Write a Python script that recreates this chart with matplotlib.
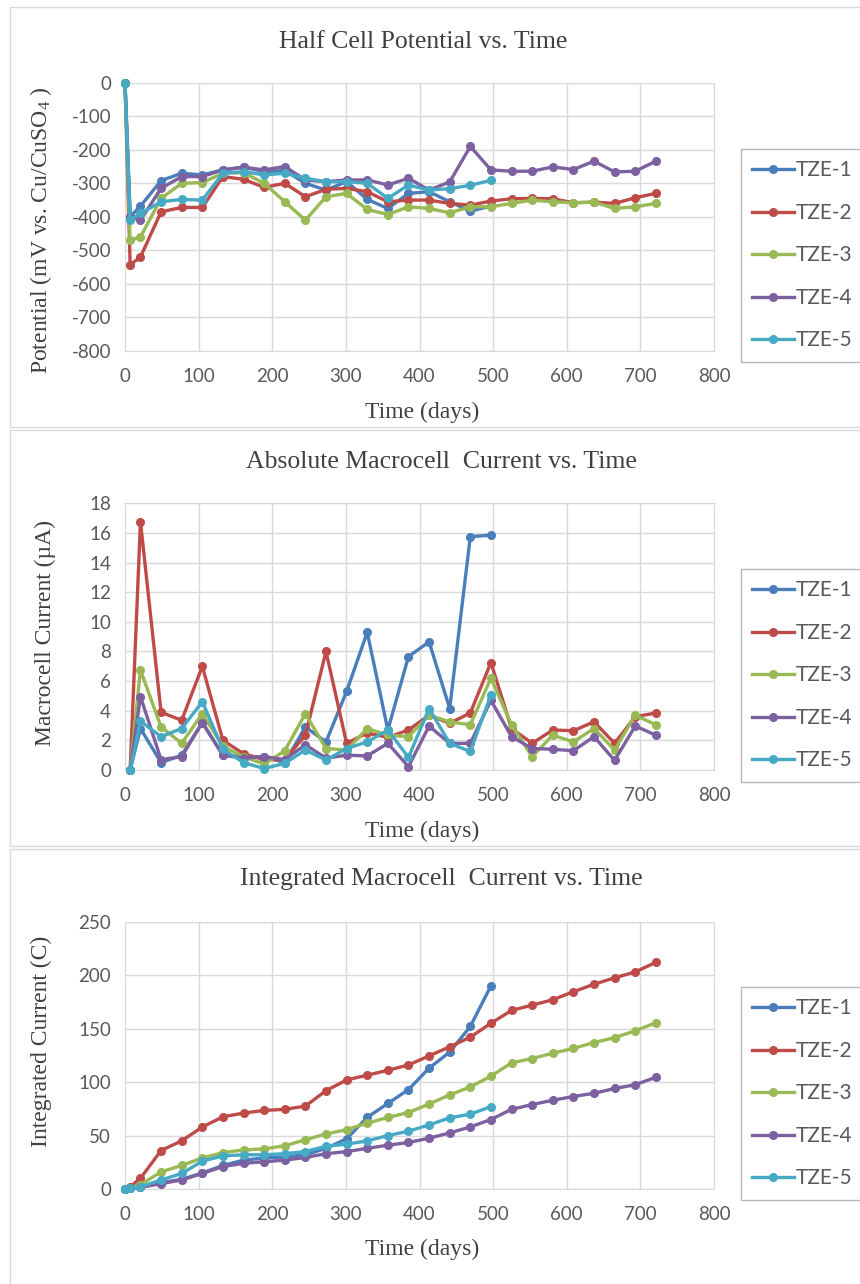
import matplotlib
matplotlib.use("Agg")
import matplotlib.pyplot as plt
from matplotlib.patches import Rectangle

# Time axis (days); TZE-1 and TZE-5 stop at day 497
days = [0, 7, 21, 49, 77, 105, 133, 161, 189, 217, 245, 273, 301, 329, 357,
        385, 413, 441, 469, 497, 525, 553, 581, 609, 637, 665, 693, 721]
days_short = days[:20]

series_names = ["TZE-1", "TZE-2", "TZE-3", "TZE-4", "TZE-5"]
series_colors = ["#4A7EBB", "#BE4B48", "#98B954", "#7D60A0", "#46AAC5"]

# Half cell potential (mV vs. Cu/CuSO4)
pot_tze1 = [0, -400, -368, -292, -270, -275, -260, -252, -265, -262, -300, -320,
            -295, -348, -375, -330, -325, -355, -383, -368]
pot_tze2 = [0, -543, -520, -385, -372, -372, -280, -288, -312, -300, -340, -318,
            -315, -325, -355, -350, -350, -360, -365, -353, -346, -345, -346,
            -358, -356, -360, -343, -330]
pot_tze3 = [0, -470, -460, -345, -300, -298, -270, -268, -300, -355, -410, -340,
            -330, -378, -393, -370, -375, -388, -370, -370, -360, -350, -355,
            -358, -356, -375, -370, -360]
pot_tze4 = [0, -400, -410, -315, -280, -280, -260, -252, -260, -250, -290, -295,
            -290, -290, -305, -285, -320, -296, -190, -260, -264, -264, -251,
            -259, -234, -266, -264, -234]
pot_tze5 = [0, -410, -390, -355, -348, -350, -270, -265, -275, -270, -285, -295,
            -295, -300, -345, -305, -320, -316, -306, -291]

# Absolute macrocell current (uA), first reading on day 7
cur_tze1 = [0, 2.8, 0.5, 1.0, 3.2, 1.0, 0.9, 0.9, 0.5, 2.9, 1.9, 5.3, 9.3, 2.7,
            7.65, 8.65, 4.15, 15.75, 15.85]
cur_tze2 = [0, 16.75, 3.9, 3.35, 7.0, 2.0, 1.1, 0.7, 0.7, 2.35, 8.0, 1.8, 2.5, 2.2,
            2.7, 3.7, 3.15, 3.85, 7.25, 2.8, 1.8, 2.7, 2.65, 3.25, 1.8, 3.6, 3.85]
cur_tze3 = [0, 6.75, 2.9, 1.8, 3.8, 1.6, 0.9, 0.4, 1.3, 3.8, 1.45, 1.35, 2.8, 2.35,
            2.25, 3.7, 3.25, 3.05, 6.2, 3.05, 0.9, 2.35, 1.9, 2.8, 1.35, 3.7, 3.05]
cur_tze4 = [0, 4.95, 0.7, 0.9, 3.2, 1.0, 0.8, 0.9, 0.7, 1.7, 0.8, 1.0, 0.95, 1.8,
            0.22, 2.97, 1.8, 1.8, 4.7, 2.25, 1.45, 1.4, 1.3, 2.25, 0.65, 2.97, 2.35]
cur_tze5 = [0, 3.3, 2.25, 2.8, 4.6, 1.4, 0.5, 0.1, 0.45, 1.35, 0.67, 1.45, 1.9,
            2.7, 0.85, 4.15, 1.8, 1.25, 5.05]

# Integrated macrocell current (C)
int_tze1 = [0, 0.5, 2, 6, 9, 15, 22, 27, 29, 30, 32, 38, 47, 67, 80, 93, 113,
            128, 152, 190]
int_tze2 = [0, 2, 10, 36, 45, 58, 67.5, 71, 73.5, 74.5, 77.5, 92, 102, 106.5, 111,
            116, 124.5, 133, 142, 155, 167, 172, 177, 184.5, 191.5, 197.5, 203, 212]
int_tze3 = [0, 1, 4, 16, 22, 29, 34, 36.5, 37.5, 40.5, 46, 51.5, 55.5, 61.5, 67,
            71.5, 79.5, 88, 95.5, 105.5, 118, 122, 127, 131.5, 137, 141.5, 148, 155.5]
int_tze4 = [0, 0.5, 1.5, 5, 8.5, 14.5, 21, 24, 25.5, 27, 29.5, 33, 35, 38, 41,
            43.5, 47.5, 52.5, 58, 65, 74.5, 79, 83, 86.5, 89.5, 94, 97.5, 104.5]
int_tze5 = [0, 0.5, 2, 8.5, 14.5, 26, 31, 32, 32, 33, 35, 40, 42, 45, 50, 54, 60,
            66.5, 70, 77]

plt.rcParams["mathtext.fontset"] = "custom"
plt.rcParams["mathtext.rm"] = "Liberation Serif"
plt.rcParams["mathtext.it"] = "Liberation Serif"
plt.rcParams["axes.unicode_minus"] = False

W, H = 860, 1284
fig = plt.figure(figsize=(W / 100, H / 100), dpi=100)

SERIF = "Liberation Serif"
SANS = "Lato"
GRID = "#D9D9D9"
TICK = "#595959"
TEXT = "#404040"


def fx(px):
    return px / W


def fy(py):
    return 1 - py / H


# chart-area frames
for top, bottom in [(7, 427), (430, 846), (849, 1290)]:
    fig.patches.append(Rectangle((fx(10), fy(bottom)), 1.0, (bottom - top) / H,
                                 transform=fig.transFigure, fill=False,
                                 edgecolor=GRID, linewidth=1.0))

panels = [
    dict(top=82.7, bottom=351, title="Half Cell Potential vs. Time", title_x=423, title_y=42,
         ylabel="Potential (mV vs. Cu/CuSO$_4$ )", ylab_x=41, ylab_y=230,
         xlab_y=412, ylim=(-800, 0), ystep=100,
         xs=[days_short, days, days, days, days_short],
         ys=[pot_tze1, pot_tze2, pot_tze3, pot_tze4, pot_tze5],
         leg=(741, 149)),
    dict(top=503.3, bottom=770, title="Absolute Macrocell  Current vs. Time", title_x=441, title_y=462,
         ylabel="Macrocell Current (µA)", ylab_x=45, ylab_y=633,
         xlab_y=831, ylim=(0, 18), ystep=2,
         xs=[days_short[1:], days[1:], days[1:], days[1:], days_short[1:]],
         ys=[cur_tze1, cur_tze2, cur_tze3, cur_tze4, cur_tze5],
         leg=(741, 569)),
    dict(top=921.7, bottom=1189, title="Integrated Macrocell  Current vs. Time", title_x=441, title_y=879,
         ylabel="Integrated Current (C)", ylab_x=41, ylab_y=1041,
         xlab_y=1249, ylim=(0, 250), ystep=50,
         xs=[days_short, days, days, days, days_short],
         ys=[int_tze1, int_tze2, int_tze3, int_tze4, int_tze5],
         leg=(741, 987)),
]

for p in panels:
    ax = fig.add_axes([fx(125), fy(p["bottom"]), fx(714) - fx(125),
                       (p["bottom"] - p["top"]) / H])
    for x, y, name, c in zip(p["xs"], p["ys"], series_names, series_colors):
        ax.plot(x, y, color=c, linewidth=2.4, marker="o", markersize=5.5,
                label=name, clip_on=False, zorder=3)
    ax.set_xlim(0, 800)
    ax.set_ylim(*p["ylim"])
    ax.set_xticks(range(0, 801, 100))
    lo, hi = p["ylim"]
    ax.set_yticks([lo + i * p["ystep"] for i in range(int((hi - lo) / p["ystep"]) + 1)])
    ax.grid(True, color=GRID, linewidth=1.0)
    ax.set_axisbelow(True)
    for s in ax.spines.values():
        s.set_color(GRID)
    ax.tick_params(length=0, labelsize=13.5, labelcolor=TICK, pad=10)
    for lab in ax.get_xticklabels() + ax.get_yticklabels():
        lab.set_family(SANS)
    ax.tick_params(axis="x", pad=12)

    fig.text(fx(p["title_x"]), fy(p["title_y"]), p["title"], family=SERIF,
             fontsize=18.5, color=TEXT, ha="center", va="center")
    fig.text(fx(422), fy(p["xlab_y"]), "Time (days)", family=SERIF,
             fontsize=17, color=TEXT, ha="center", va="center")
    fig.text(fx(p["ylab_x"]), fy(p["ylab_y"]), p["ylabel"], family=SERIF,
             fontsize=17, color=TEXT, ha="center", va="center", rotation=90)

    lx, ltop = p["leg"]
    leg = ax.legend(loc="upper left", bbox_to_anchor=(fx(lx), fy(ltop)),
                    bbox_transform=fig.transFigure, frameon=True, fancybox=False,
                    prop={"family": SANS, "size": 15}, labelspacing=1.08,
                    handlelength=2.0, handletextpad=0.1, borderpad=0.55,
                    borderaxespad=0)
    leg.get_frame().set_edgecolor("#A6A6A6")
    leg.get_frame().set_linewidth(1.0)
    for t in leg.get_texts():
        t.set_color(TICK)

fig.savefig("out.png", dpi=100)
